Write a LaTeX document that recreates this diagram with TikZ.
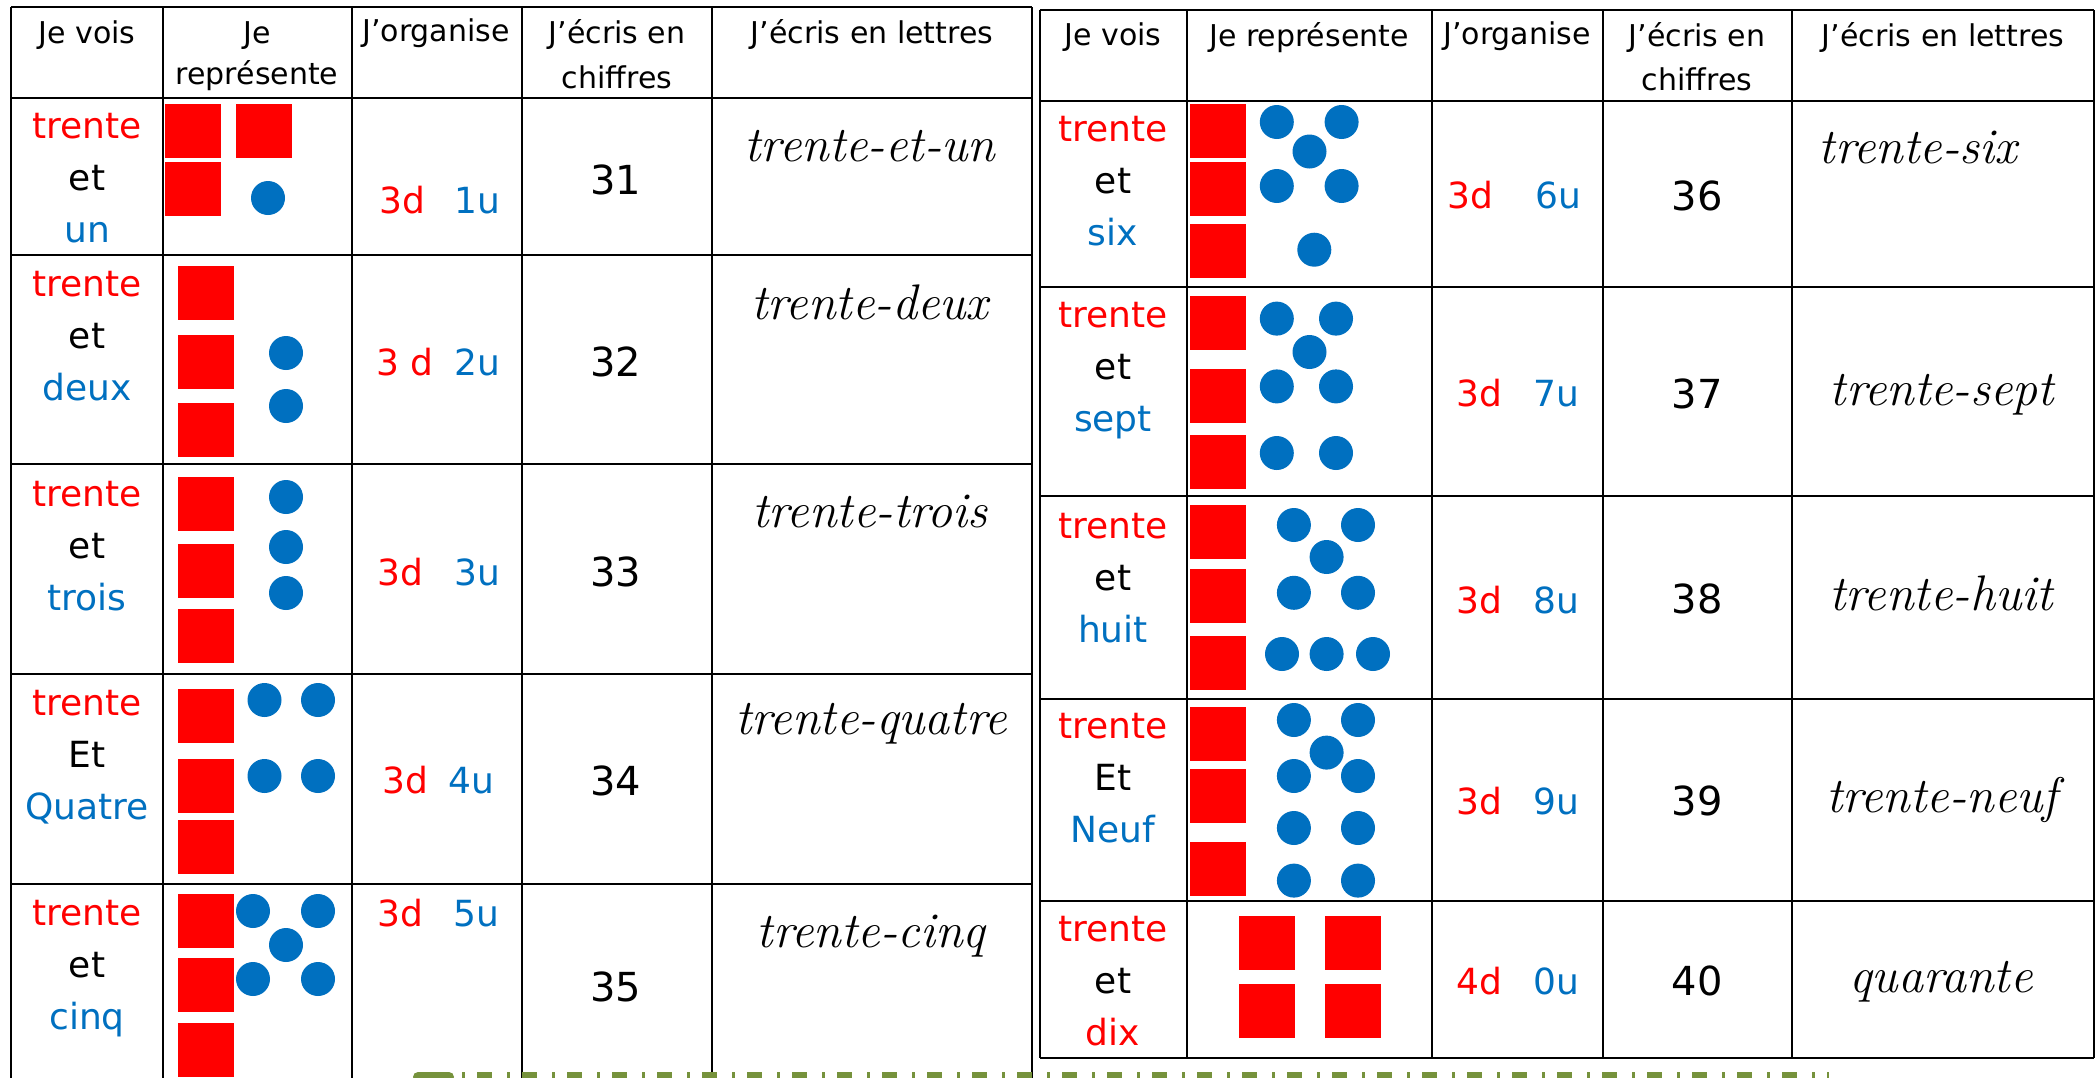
\documentclass[tikz,border=0pt]{standalone}
\usepackage{fontspec}
\newfontfamily\ecole{DejaVu Sans}
\usepackage{tikz}
\usetikzlibrary{positioning}

\definecolor{rouge}{HTML}{FF0000}
\definecolor{bleu}{HTML}{0070C0}
\definecolor{vertolive}{HTML}{76923C}

% une dizaine (carre rouge) et une unite (rond bleu)
\newcommand{\dizaine}[2]{\fill[rouge] (#1,#2) rectangle ++(56,54);}
\newcommand{\unite}[2]{\fill[bleu] (#1,#2) circle[radius=17];}
% colonne "Je vois" : nom, x, ligne de base du milieu, mot du milieu, dernier mot, couleur
\newcommand{\jevois}[6]{%
  \node[mot] (#1) at (#2,#3) {#4};
  \node[mot, text=rouge] (#1-haut) at ([yshift=26pt]#1.base) {trente};
  \node[mot, text=#6] (#1-bas) at ([yshift=-26pt]#1.base) {#5};
}
% colonne "J'organise" : nom, x dizaines, x unites, ligne de base, dizaines, unites
\newcommand{\jorganise}[6]{%
  \node[mot, text=rouge] (#1-d) at (#2,#4) {#5};
  \node[mot, text=bleu] (#1-u) at (#3,#4) {#6};
}

\begin{document}
\begin{tikzpicture}[
    x=0.5pt, y=-0.5pt,
    every node/.style={inner sep=0pt},
    mot/.style={font=\ecole\fontsize{18}{22}\selectfont, anchor=base},
    entete/.style={font=\ecole\fontsize{15}{18}\selectfont, anchor=base},
    chiffre/.style={font=\ecole\fontsize{20}{24}\selectfont, anchor=base},
    cursive/.style={font=\rmfamily\itshape\fontsize{25}{30}\selectfont, anchor=base},
    trait/.style={line width=1pt},
    pointilles/.style={vertolive, line width=5pt}
]
\useasboundingbox (0,0) rectangle (2099,1077);
\clip (0,0) rectangle (2099,1077);
\fill[white] (0,0) rectangle (2099,1077);

% Tableau de gauche (31 a 35)
\foreach \x in {11.4,162.7,351.5,521.6,711.8,1031.9}
    \draw[trait] (\x,7) -- (\x,1080);
\foreach \y in {7,98,255,464.3,673.7,884.1}
    \draw[trait] (11.4,\y) -- (1031.9,\y);

\node[entete] (g-vois) at (87,43) {Je vois};
\node[entete] (g-rep) at (257,43) {Je};
\node[entete] (g-rep2) at (257,84) {représente};
\node[entete] (g-org) at (436,41) {J’organise};
\node[entete] (g-chif) at (617,43) {J’écris en};
\node[entete] (g-chif2) at (617,88) {chiffres};
\node[entete] (g-let) at (872,43) {J’écris en lettres};

% 31
\jevois{vois31}{87}{190}{et}{un}{bleu}
\dizaine{164.7}{104} \dizaine{235.7}{104} \dizaine{164.7}{162}
\unite{268}{198}
\jorganise{org31}{402}{477}{213}{3d}{1u}
\node[chiffre] (ecrit31) at (616,194) {31};
\node[cursive] (lettres31) at (870,161) {trente-et-un};

% 32
\jevois{vois32}{87}{348}{et}{deux}{bleu}
\dizaine{178}{266} \dizaine{178}{335} \dizaine{178}{403}
\unite{286}{353} \unite{286}{406}
\jorganise{org32}{405}{477}{375}{3 d}{2u}
\node[chiffre] (ecrit32) at (616,376) {32};
\node[cursive] (lettres32) at (870,319) {trente-deux};

% 33
\jevois{vois33}{87}{558}{et}{trois}{bleu}
\dizaine{178}{477} \dizaine{178}{544} \dizaine{178}{608.5}
\unite{286}{497} \unite{286}{547} \unite{286}{593}
\jorganise{org33}{400}{477}{585}{3d}{3u}
\node[chiffre] (ecrit33) at (616,586) {33};
\node[cursive] (lettres33) at (870,527) {trente-trois};

% 34
\jevois{vois34}{87}{767}{Et}{Quatre}{bleu}
\dizaine{178}{688.7} \dizaine{178}{758.5} \dizaine{178}{820}
\unite{264.5}{700} \unite{318}{700} \unite{264.5}{776} \unite{318}{776}
\jorganise{org34}{405}{471}{793}{3d}{4u}
\node[chiffre] (ecrit34) at (616,795) {34};
\node[cursive] (lettres34) at (871,734) {trente-quatre};

% 35
\jevois{vois35}{87}{977}{et}{cinq}{bleu}
\dizaine{178}{894} \dizaine{178}{958} \dizaine{178}{1022.6}
\unite{253}{911} \unite{318}{911} \unite{286}{945} \unite{253}{979} \unite{318}{979}
\jorganise{org35}{400}{476}{926}{3d}{5u}
\node[chiffre] (ecrit35) at (616,1001) {35};
\node[cursive] (lettres35) at (871,947) {trente-cinq};

% Tableau de droite (36 a 40)
\foreach \x in {1039.5,1186.8,1432,1602.7,1791.6,2093.6}
    \draw[trait] (\x,10.3) -- (\x,1057.5);
\foreach \y in {10.3,101,286.5,496,699,901,1057.5}
    \draw[trait] (1039.5,\y) -- (2093.6,\y);

\node[entete] (d-vois) at (1113,45.5) {Je vois};
\node[entete] (d-rep) at (1309,46) {Je représente};
\node[entete] (d-org) at (1517,44) {J’organise};
\node[entete] (d-chif) at (1697,46) {J’écris en};
\node[entete] (d-chif2) at (1697,90) {chiffres};
\node[entete] (d-let) at (1943,46) {J’écris en lettres};

% 36
\jevois{vois36}{1113}{193}{et}{six}{bleu}
\dizaine{1189.5}{104} \dizaine{1189.5}{162} \dizaine{1189.5}{224}
\unite{1276.8}{122} \unite{1341.6}{122} \unite{1309.5}{151.5}
\unite{1276.8}{186} \unite{1341.6}{186} \unite{1314.3}{249.7}
\jorganise{org36}{1470}{1558}{208}{3d}{6u}
\node[chiffre] (ecrit36) at (1697,210) {36};
\node[cursive] (lettres36) at (1918,163) {trente-six};

% 37
\jevois{vois37}{1113}{379}{et}{sept}{bleu}
\dizaine{1189.5}{295.5} \dizaine{1189.5}{368.5} \dizaine{1189.5}{435}
\unite{1276.8}{318.6} \unite{1336}{318.6} \unite{1309.5}{352}
\unite{1276.8}{386.4} \unite{1336}{386.4} \unite{1276.8}{453} \unite{1336}{453}
\jorganise{org37}{1479}{1556}{406}{3d}{7u}
\node[chiffre] (ecrit37) at (1697,408) {37};
\node[cursive] (lettres37) at (1942,405) {trente-sept};

% 38
\jevois{vois38}{1113}{590}{et}{huit}{bleu}
\dizaine{1189.5}{504.6} \dizaine{1189.5}{569.4} \dizaine{1189.5}{636.4}
\unite{1293.9}{525} \unite{1358}{525} \unite{1326.6}{557}
\unite{1293.9}{592.8} \unite{1358}{592.8}
\unite{1282}{654} \unite{1326.6}{654} \unite{1373}{654}
\jorganise{org38}{1479}{1556}{613}{3d}{8u}
\node[chiffre] (ecrit38) at (1697,613) {38};
\node[cursive] (lettres38) at (1941,610) {trente-huit};

% 39
\jevois{vois39}{1113}{790}{Et}{Neuf}{bleu}
\dizaine{1189.5}{707} \dizaine{1189.5}{769} \dizaine{1189.5}{841.6}
\unite{1293.9}{720} \unite{1358}{720} \unite{1326.6}{752.6}
\unite{1293.9}{776} \unite{1358}{776} \unite{1293.9}{828} \unite{1358}{828}
\unite{1293.9}{880.6} \unite{1358}{880.6}
\jorganise{org39}{1479}{1556}{814}{3d}{9u}
\node[chiffre] (ecrit39) at (1697,815) {39};
\node[cursive] (lettres39) at (1942,812) {trente-neuf};

% 40
\jevois{vois40}{1113}{993}{et}{dix}{rouge}
\dizaine{1238.6}{915.5} \dizaine{1324.5}{915.5}
\dizaine{1238.6}{983.6} \dizaine{1324.5}{983.6}
\jorganise{org40}{1479}{1556}{994}{4d}{0u}
\node[chiffre] (ecrit40) at (1697,995) {40};
\node[cursive] (lettres40) at (1941,992) {quarante};

% Frise verte en bas
\draw[pointilles, line cap=round] (418,1077) -- (449,1077);
\draw[pointilles, dash pattern=on 1.5pt off 6pt on 7.5pt off 7.5pt] (462,1077) -- (1829,1077);
\end{tikzpicture}
\end{document}
